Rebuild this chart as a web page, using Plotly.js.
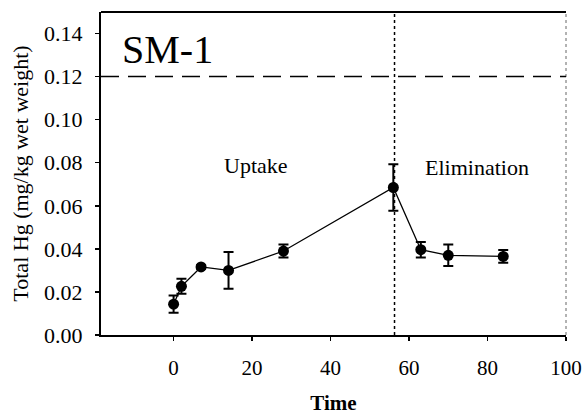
<!DOCTYPE html>
<html>
<head>
<meta charset="utf-8">
<script src="https://cdn.plot.ly/plotly-3.0.1.min.js"></script>
<style>html,body{margin:0;padding:0;background:#fff;}#chart{width:582px;height:415px;}</style>
</head>
<body>
<div id="chart"></div>
<script>
// Data
const timeDays = [0, 2, 7, 14, 28, 56, 63, 70, 84];
const totalHg = [0.0143, 0.0226, 0.0316, 0.030, 0.039, 0.0685, 0.0396, 0.037, 0.0365];
const hgError = [0.004, 0.0035, 0.0008, 0.0085, 0.003, 0.0108, 0.0036, 0.005, 0.003];
const xTicks = [0, 20, 40, 60, 80, 100];
const yTicks = [0.00, 0.02, 0.04, 0.06, 0.08, 0.10, 0.12, 0.14];
const guidelineHg = 0.12;
const phaseSwitchDay = 56.3;
const panelLabel = "SM-1";
const phaseLabels = ["Uptake", "Elimination"];

const serif = "'Liberation Serif', 'Times New Roman', Times, serif";

const trace = {
  x: timeDays,
  y: totalHg,
  type: "scatter",
  mode: "lines+markers",
  line: {color: "#000", width: 1.3},
  marker: {color: "#000", size: 11},
  error_y: {type: "data", array: hgError, visible: true, color: "#000", thickness: 2, width: 5},
  showlegend: false
};

const layout = {
  width: 582, height: 415,
  margin: {l: 101, r: 16, t: 12, b: 80},
  paper_bgcolor: "#fff", plot_bgcolor: "#fff",
  font: {family: serif, color: "#000"},
  xaxis: {
    range: [-18.5, 100],
    tickvals: xTicks,
    ticktext: xTicks.map(String),
    ticks: "outside", ticklen: 4, tickwidth: 1.5, tickcolor: "#000",
    ticklabelstandoff: 9,
    showline: true, linecolor: "#000", linewidth: 2,
    showgrid: false, zeroline: false,
    tickfont: {family: serif, size: 21, color: "#000"},
    title: {text: "<b>Time</b>", font: {family: serif, size: 21, color: "#000"}, standoff: 16},
    automargin: false
  },
  yaxis: {
    range: [0, 0.15],
    tickvals: yTicks,
    ticktext: yTicks.map(v => v.toFixed(2)),
    ticks: "outside", ticklen: 4, tickwidth: 1.5, tickcolor: "#000",
    ticklabelstandoff: 8,
    showline: true, linecolor: "#000", linewidth: 2,
    showgrid: false, zeroline: false,
    tickfont: {family: serif, size: 22, color: "#000"},
    title: {text: "Total Hg (mg/kg wet weight)", font: {family: serif, size: 22, color: "#000"}, standoff: 9},
    automargin: false
  },
  shapes: [
    {type: "line", xref: "paper", yref: "paper", x0: 0, x1: 1, y0: 1, y1: 1, line: {color: "#000", width: 2}},
    {type: "line", xref: "paper", yref: "paper", x0: 1, x1: 1, y0: 0, y1: 1, line: {color: "#666", width: 1, dash: "dot"}},
    {type: "line", xref: "paper", yref: "y", x0: 0, x1: 1, y0: guidelineHg, y1: guidelineHg, line: {color: "#000", width: 1.5, dash: "18px,9px"}},
    {type: "line", xref: "x", yref: "paper", x0: phaseSwitchDay, x1: phaseSwitchDay, y0: 0, y1: 1, line: {color: "#000", width: 1.5, dash: "dot"}}
  ],
  annotations: [
    {x: -13.6, y: 0.1326, xref: "x", yref: "y", text: panelLabel, showarrow: false, xanchor: "left", yanchor: "middle", font: {family: serif, size: 40, color: "#000"}},
    {x: 21, y: 0.0785, xref: "x", yref: "y", text: phaseLabels[0], showarrow: false, xanchor: "center", yanchor: "middle", font: {family: serif, size: 22, color: "#000"}},
    {x: 77.3, y: 0.078, xref: "x", yref: "y", text: phaseLabels[1], showarrow: false, xanchor: "center", yanchor: "middle", font: {family: serif, size: 22, color: "#000"}}
  ]
};

Plotly.newPlot("chart", [trace], layout, {displayModeBar: false, staticPlot: true});
</script>
</body>
</html>
